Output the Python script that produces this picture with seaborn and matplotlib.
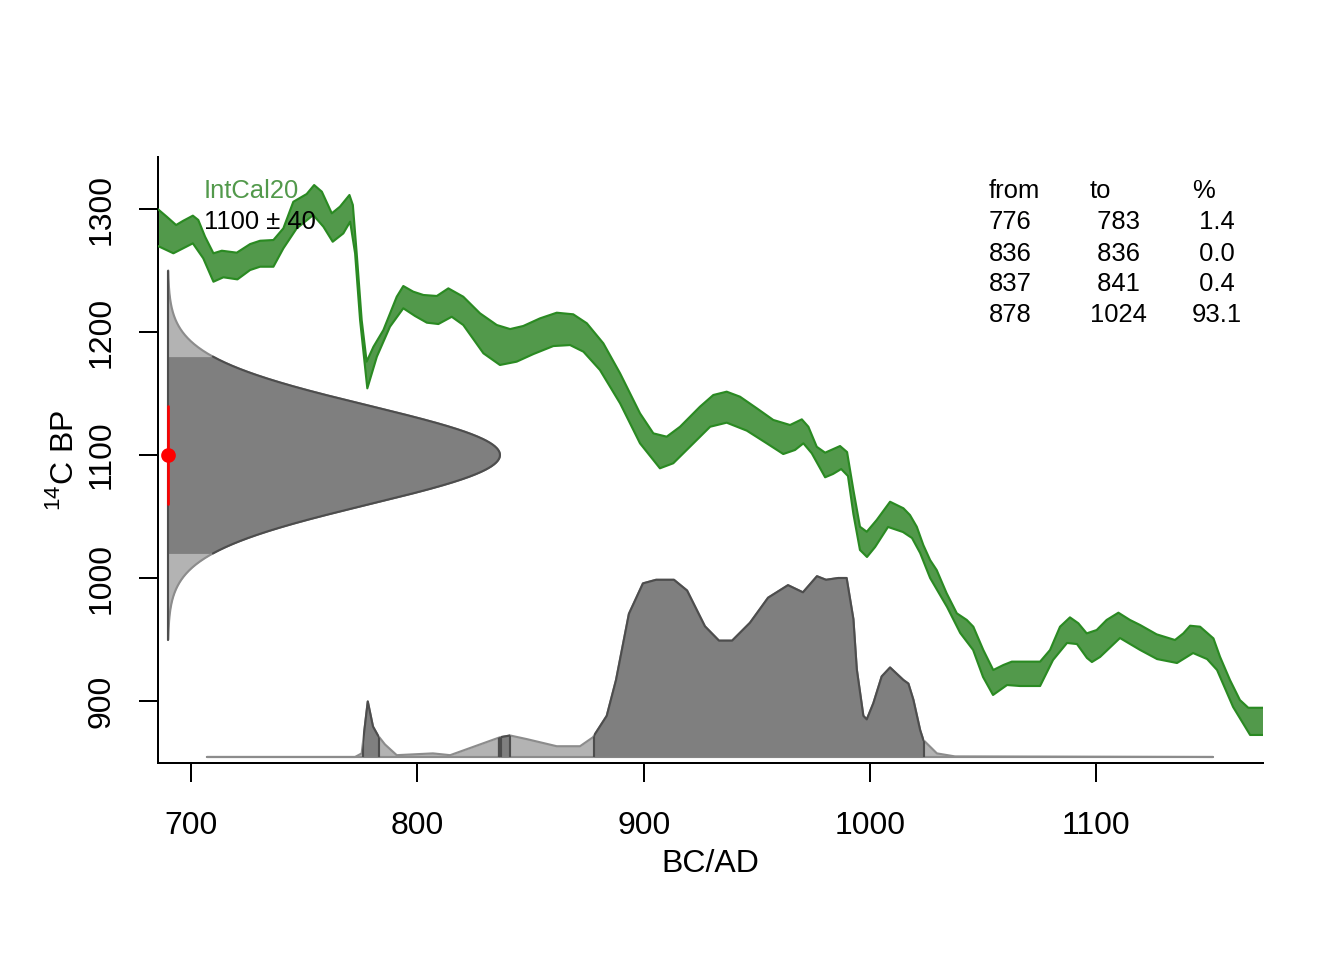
import numpy as np
import matplotlib
matplotlib.use("Agg")
import matplotlib.pyplot as plt
from matplotlib.patches import Rectangle
import seaborn as sns

# IntCal20 band: upper and lower edge (cal AD, 14C BP)
cc_upper_year = [685.4, 689.3, 693.4, 696.6, 700.8, 703.2, 706.2, 709.9, 713.6, 720.2,
                 726.1, 730.5, 736.4, 740.8, 745.2, 751.1, 754.4, 757.8, 762.2, 765.8,
                 770.0, 771.5, 773.2, 775.4, 777.6, 780.6, 785.0, 790.9, 793.8, 798.2,
                 802.7, 808.6, 813.7, 820.3, 827.7, 835.1, 841.0, 846.8, 854.2, 861.6,
                 868.9, 874.9, 882.2, 889.6, 898.4, 904.3, 910.2, 916.1, 924.9, 930.8,
                 936.7, 942.6, 950.0, 957.3, 964.7, 969.9, 972.8, 976.5, 980.2, 986.8,
                 989.9, 992.7, 995.6, 998.6, 1003.0, 1008.9, 1014.8, 1017.7, 1020.7, 1023.6,
                 1026.6, 1029.5, 1033.9, 1038.4, 1042.8, 1045.7, 1050.1, 1054.5, 1059.0, 1062.7,
                 1075.2, 1079.6, 1084.0, 1088.4, 1092.1, 1095.8, 1100.2, 1104.6, 1109.8, 1114.9,
                 1119.4, 1126.7, 1134.8, 1138.5, 1141.5, 1145.9, 1151.8, 1154.7, 1159.1, 1163.5,
                 1167.2, 1173.8]
cc_upper_bp = [1299.8, 1293.7, 1287.0, 1290.5, 1294.6, 1291.1, 1277.5, 1264.0, 1266.1, 1264.5,
               1271.5, 1274.2, 1274.8, 1284.3, 1305.9, 1312.2, 1319.5, 1314.1, 1296.5, 1301.9,
               1311.4, 1303.3, 1264.0, 1209.8, 1175.9, 1188.0, 1201.6, 1228.7, 1237.4, 1232.8,
               1230.1, 1229.3, 1235.5, 1228.7, 1215.2, 1205.7, 1202.4, 1204.9, 1211.1, 1215.7,
               1214.4, 1207.1, 1190.8, 1166.4, 1133.9, 1117.6, 1114.9, 1123.0, 1139.3, 1148.8,
               1151.5, 1147.4, 1138.0, 1128.5, 1124.4, 1129.0, 1123.0, 1106.7, 1101.9, 1107.3,
               1102.4, 1071.5, 1041.7, 1037.6, 1047.2, 1062.0, 1056.7, 1051.2, 1041.7, 1026.8,
               1014.6, 1006.5, 987.6, 971.3, 965.9, 960.4, 941.5, 925.2, 929.3, 932.0,
               932.0, 941.5, 960.4, 968.0, 963.2, 955.0, 957.7, 965.9, 971.8, 965.9,
               961.8, 954.2, 949.6, 955.0, 961.2, 960.4, 950.9, 936.0, 917.1, 900.8,
               894.5, 894.5]
cc_lower_year = [685.4, 692.2, 700.8, 705.4, 709.9, 714.3, 720.5, 726.1, 730.5, 736.4,
                 740.8, 746.7, 754.0, 758.5, 762.6, 767.3, 770.3, 772.5, 774.7, 777.9,
                 782.1, 787.9, 793.8, 799.0, 804.2, 809.3, 815.2, 820.3, 829.2, 836.5,
                 843.9, 851.3, 860.1, 867.5, 873.4, 880.7, 889.6, 898.4, 907.2, 913.1,
                 922.0, 929.4, 936.7, 945.6, 954.4, 961.7, 966.9, 970.6, 974.3, 980.2,
                 983.7, 987.3, 990.3, 992.7, 995.6, 998.7, 1002.3, 1008.0, 1014.6,
                 1018.6, 1022.2, 1026.6, 1034.1, 1039.9, 1045.6, 1050.0, 1054.4, 1060.6, 1066.3,
                 1075.2, 1080.9, 1087.1, 1091.5, 1095.9, 1098.1, 1101.7, 1110.5, 1119.4, 1126.9,
                 1135.7, 1142.8, 1149.0, 1153.4, 1160.5, 1168.0, 1173.8]
cc_lower_bp = [1269.9, 1264.0, 1272.1, 1259.9, 1240.9, 1244.5, 1242.8, 1250.4, 1253.1, 1253.1,
               1268.0, 1284.3, 1295.1, 1285.6, 1273.4, 1280.2, 1289.7, 1264.0, 1209.8, 1154.2,
               1179.9, 1204.3, 1219.3, 1213.0, 1207.6, 1206.5, 1212.4, 1205.7, 1182.7, 1173.2,
               1175.9, 1182.1, 1188.6, 1189.4, 1184.0, 1169.1, 1142.0, 1109.5, 1089.2, 1093.3,
               1109.5, 1123.0, 1126.3, 1119.8, 1109.5, 1100.8, 1104.1, 1109.5, 1101.4, 1081.9,
               1084.6, 1088.6, 1082.9, 1052.0, 1022.8, 1017.1, 1025.2, 1041.5, 1037.4,
               1032.5, 1020.3, 1000.0, 976.4, 955.3, 941.5, 919.5, 904.9, 913.0, 912.2,
               912.2, 933.3, 947.2, 946.3, 935.0, 931.7, 935.8, 951.2, 941.5, 934.1,
               930.9, 939.0, 934.1, 925.2, 895.1, 872.4, 872.4]

# calibrated distribution (relative to its highest point)
cal_year = [707.0, 772.5, 775.4, 778.1, 780.4, 782.6, 785.7, 790.9, 806.9, 814.5,
            827.7, 836.5, 841.0, 848.3, 861.6, 871.9, 877.6, 883.7, 887.8, 893.5,
            899.7, 905.5, 913.4, 919.2, 927.1, 933.3, 939.1, 947.0, 955.0, 963.8,
            970.4, 976.6, 980.6, 986.0, 989.7, 992.7, 994.2, 997.1, 998.6, 1001.5,
            1005.2, 1008.9, 1014.8, 1017.0, 1019.2, 1022.2, 1023.6, 1029.6, 1037.6, 1151.6]
cal_prob = [0.0, 0.0, 0.02, 0.31, 0.17, 0.12, 0.07, 0.01, 0.02, 0.01,
            0.07, 0.11, 0.12, 0.10, 0.06, 0.06, 0.11, 0.23, 0.43, 0.80,
            0.97, 0.99, 0.99, 0.93, 0.73, 0.65, 0.65, 0.75, 0.89, 0.96,
            0.92, 1.01, 0.99, 1.00, 1.00, 0.77, 0.49, 0.23, 0.21, 0.30,
            0.45, 0.50, 0.43, 0.41, 0.32, 0.15, 0.095, 0.02, 0.003, 0.0]

# 95% ranges
hpd_from = [776, 836, 837, 878]
hpd_to = [783, 836, 841, 1024]
hpd_pct = [1.4, 0.0, 0.4, 93.1]

# the radiocarbon date
date_bp = 1100
date_sd = 40

x_ticks = [700, 800, 900, 1000, 1100]
y_ticks = [900, 1000, 1100, 1200, 1300]

cc_fill = "#52994b"
cc_line = "#2a8a22"
light = "#b3b3b3"
light_edge = "#8c8c8c"
dark = "#7f7f7f"
dark_edge = "#4d4d4d"

sns.set_theme(style="ticks")
plt.rcParams["font.family"] = ["Liberation Sans", "DejaVu Sans"]
plt.rcParams["text.color"] = "black"
plt.rcParams["mathtext.fontset"] = "custom"
plt.rcParams["mathtext.rm"] = "Liberation Sans"

fig = plt.figure(figsize=(7, 5), dpi=192)
ax = fig.add_axes([0.11756, 0.20521, 0.82217, 0.63125])
ax.set_xlim(685.4, 1173.7)
ax.set_ylim(849.6, 1342.3)

# calibration curve
band_x = np.concatenate([cc_upper_year, cc_lower_year[::-1]])
band_y = np.concatenate([cc_upper_bp, cc_lower_bp[::-1]])
ax.fill(band_x, band_y, color=cc_fill, lw=0, zorder=2)
sns.lineplot(x=cc_upper_year, y=cc_upper_bp, ax=ax, color=cc_line, lw=0.8, zorder=3)
sns.lineplot(x=cc_lower_year, y=cc_lower_bp, ax=ax, color=cc_line, lw=0.8, zorder=3)

# calibrated distribution along the bottom
dens_base = 854.5
dens_height = 145.5
cal_top = dens_base + np.array(cal_prob) * dens_height
full = ax.fill_between(cal_year, dens_base, cal_top, color=light, lw=0, zorder=2)
ax.plot(cal_year, cal_top, color=light_edge, lw=0.8, zorder=3)
ax.plot([cal_year[0], cal_year[-1]], [dens_base, dens_base], color=light_edge, lw=0.8, zorder=3)
full_path = full.get_paths()[0]
for a, b in zip(hpd_from, hpd_to):
    rect = Rectangle((a, dens_base - 5), b - a, dens_height * 1.3, transform=ax.transData)
    dpoly = ax.fill_between(cal_year, dens_base, cal_top, color=dark, lw=0, zorder=4)
    dpoly.set_clip_path(rect)
    dline, = ax.plot(cal_year, cal_top, color=dark_edge, lw=0.8, zorder=5)
    dline.set_clip_path(rect)
    vl = ax.vlines([a, b], dens_base, dens_base + dens_height * 1.1, color=dark_edge, lw=0.8, zorder=5)
    vl.set_clip_path(full_path, ax.transData)

# the date itself as a normal curve (1100 +- 40) on the left
date_x0 = 689.8
date_width = 146.7
ys = np.arange(date_bp - 3.75 * date_sd, date_bp + 3.75 * date_sd + 0.25, 0.5)
xs = date_x0 + date_width * np.exp(-0.5 * ((ys - date_bp) / date_sd) ** 2)
inner = np.abs(ys - date_bp) <= 2 * date_sd
ax.fill_betweenx(ys, date_x0, xs, color=light, lw=0, zorder=2)
ax.fill_betweenx(ys, date_x0, xs, where=inner, color=dark, lw=0, zorder=3)
ax.plot(xs, ys, color=light_edge, lw=0.8, zorder=4)
ax.plot(xs[inner], ys[inner], color=dark_edge, lw=0.8, zorder=5)
ax.plot([date_x0, date_x0], [ys[0], ys[-1]], color=dark_edge, lw=0.8, zorder=5)
ax.plot([date_x0, date_x0], [date_bp - date_sd, date_bp + date_sd], color="red", lw=1.0, zorder=6)
ax.plot([date_x0], [date_bp], "o", color="red", ms=4.5, zorder=7)

# legend texts
ax.text(0.0416, 0.9323, "IntCal20", transform=ax.transAxes, color=cc_fill,
        fontsize=9.6, va="baseline", ha="left", zorder=8)
ax.text(0.0416, 0.8804, f"{date_bp} \u00b1 {date_sd}", transform=ax.transAxes,
        color="black", fontsize=9.6, va="baseline", ha="left", zorder=8)

# table of ranges
col_x = [0.752, 0.8434, 0.9357]
row_y = [0.9323, 0.8804, 0.8292, 0.7781, 0.7269]
for cx, head in zip(col_x, ["from", "to", "%"]):
    ax.text(cx, row_y[0], head, transform=ax.transAxes, fontsize=9.6, va="baseline", ha="left")
for i, (f, t, p) in enumerate(zip(hpd_from, hpd_to, hpd_pct)):
    row = [f"{f}", f"{t:>4d}".replace("  ", " "), f"{p:4.1f}".replace("  ", " ")]
    for cx, s in zip(col_x, row):
        ax.text(cx, row_y[i + 1], s, transform=ax.transAxes, fontsize=9.6, va="baseline", ha="left")

# axes styling
ax.set_xticks(x_ticks)
ax.set_yticks(y_ticks)
ax.tick_params(axis="both", direction="out", length=7.1, width=0.75, color="black",
               labelsize=12, labelcolor="black")
ax.tick_params(axis="x", pad=10.8)
ax.tick_params(axis="y", pad=8.6, labelrotation=90)
for lbl in ax.get_yticklabels():
    lbl.set_va("center")
sns.despine(ax=ax)
for side in ["left", "bottom"]:
    ax.spines[side].set_color("black")
    ax.spines[side].set_linewidth(0.75)

ax.set_xlabel("BC/AD", fontsize=12, color="black")
ax.set_ylabel("$^{\\mathrm{14}}$C BP", fontsize=12, color="black")
ax.xaxis.set_label_coords(0.5, -0.1427)
ax.yaxis.set_label_coords(-0.0706, 0.5)

fig.savefig("out.png", dpi=192)
